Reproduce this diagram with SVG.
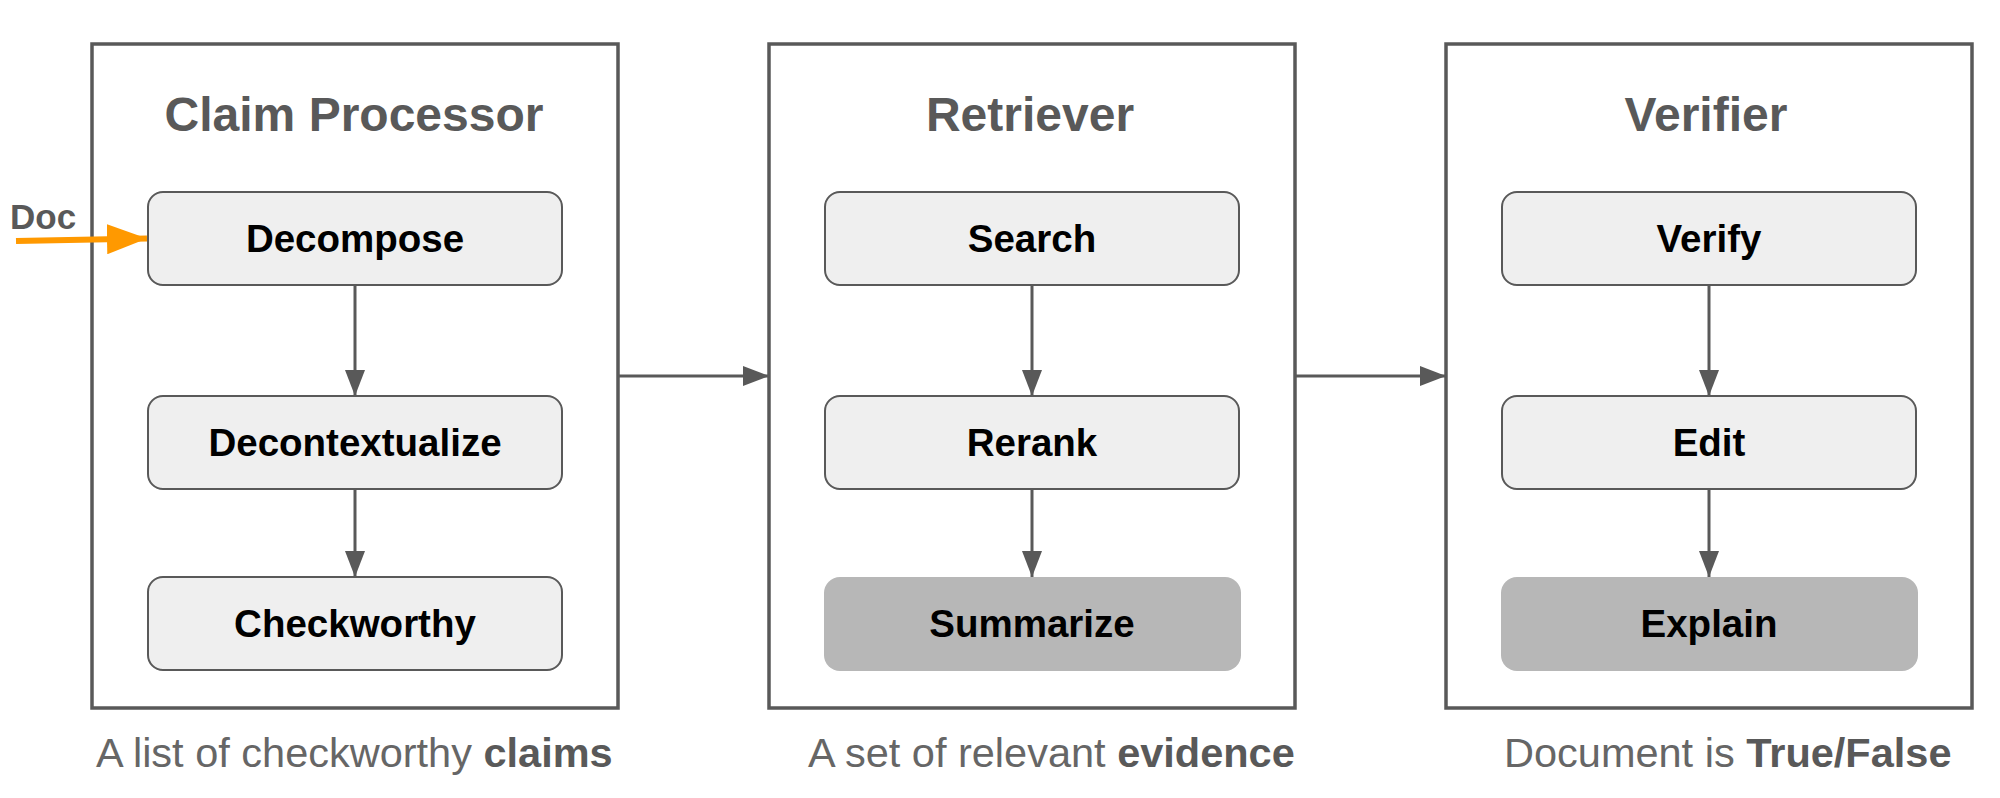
<svg xmlns="http://www.w3.org/2000/svg" width="2000" height="798" viewBox="0 0 2000 798">
<style>
.box{fill:#ffffff;stroke:#595959;stroke-width:3.5}
.node{fill:#efefef;stroke:#595959;stroke-width:2}
.dark{fill:#b7b7b7;stroke:none}
.title{font-family:"Liberation Sans",Arial,sans-serif;font-weight:bold;font-size:48px;fill:#595959;text-anchor:middle}
.lbl{font-family:"Liberation Sans",Arial,sans-serif;font-weight:bold;font-size:38.5px;fill:#000000;text-anchor:middle}
.cap{font-family:"Liberation Sans",Arial,sans-serif;font-size:41.5px;fill:#666666}
.capb{font-weight:bold;fill:#595959}
.conn{stroke:#595959;stroke-width:3;fill:none;marker-end:url(#ah)}
.doc{stroke:#ff9900;stroke-width:6;fill:none;marker-end:url(#ahOrange)}
</style>
<defs>
<marker id="ah" markerUnits="userSpaceOnUse" markerWidth="26" markerHeight="20" refX="26" refY="10" orient="auto">
<path d="M0,0 L26,10 L0,20 Z" fill="#595959"/>
</marker>
<marker id="ahOrange" markerUnits="userSpaceOnUse" markerWidth="40" markerHeight="30" refX="40" refY="15" orient="auto">
<path d="M0,0 L40,15 L0,30 Z" fill="#ff9900"/>
</marker>
</defs>
<rect width="2000" height="798" fill="#ffffff"/>

<g id="claim-processor">
<rect class="box" x="92" y="44" width="526" height="664"/>
<text class="title" x="354" y="131">Claim Processor</text>
</g>
<g id="retriever">
<rect class="box" x="769" y="44" width="526" height="664"/>
<text class="title" x="1030" y="131">Retriever</text>
</g>
<g id="verifier">
<rect class="box" x="1446" y="44" width="526" height="664"/>
<text class="title" x="1706" y="131">Verifier</text>
</g>

<g id="decompose">
<rect class="node" x="148" y="192" width="414" height="93" rx="15"/>
<text class="lbl" x="355" y="252">Decompose</text>
</g>
<g id="decontextualize">
<rect class="node" x="148" y="396" width="414" height="93" rx="15"/>
<text class="lbl" x="355" y="456">Decontextualize</text>
</g>
<g id="checkworthy">
<rect class="node" x="148" y="577" width="414" height="93" rx="15"/>
<text class="lbl" x="355" y="637">Checkworthy</text>
</g>

<g id="search">
<rect class="node" x="825" y="192" width="414" height="93" rx="15"/>
<text class="lbl" x="1032" y="252">Search</text>
</g>
<g id="rerank">
<rect class="node" x="825" y="396" width="414" height="93" rx="15"/>
<text class="lbl" x="1032" y="456">Rerank</text>
</g>
<g id="summarize">
<rect class="dark" x="824" y="577" width="417" height="94" rx="16"/>
<text class="lbl" x="1032" y="637">Summarize</text>
</g>

<g id="verify">
<rect class="node" x="1502" y="192" width="414" height="93" rx="15"/>
<text class="lbl" x="1709" y="252">Verify</text>
</g>
<g id="edit">
<rect class="node" x="1502" y="396" width="414" height="93" rx="15"/>
<text class="lbl" x="1709" y="456">Edit</text>
</g>
<g id="explain">
<rect class="dark" x="1501" y="577" width="417" height="94" rx="16"/>
<text class="lbl" x="1709" y="637">Explain</text>
</g>

<g id="doc-input">
<text x="10" y="229" style="font-family:'Liberation Sans',Arial,sans-serif;font-weight:bold;font-size:35px;fill:#595959">Doc</text>
</g>

<g id="connectors">
<path class="doc" d="M16,241 L147,238.5"/>
<path class="conn" d="M355,285 L355,396"/>
<path class="conn" d="M355,489 L355,577"/>
<path class="conn" d="M1032,285 L1032,396"/>
<path class="conn" d="M1032,489 L1032,577"/>
<path class="conn" d="M1709,285 L1709,396"/>
<path class="conn" d="M1709,489 L1709,577"/>
<path class="conn" d="M619,376 L769,376"/>
<path class="conn" d="M1296,376 L1446,376"/>
</g>

<g id="captions">
<text class="cap" x="96" y="767">A list of checkworthy <tspan class="capb">claims</tspan></text>
<text class="cap" x="808" y="767">A set of relevant <tspan class="capb">evidence</tspan></text>
<text class="cap" x="1504" y="767">Document is <tspan class="capb">True/False</tspan></text>
</g>
</svg>
